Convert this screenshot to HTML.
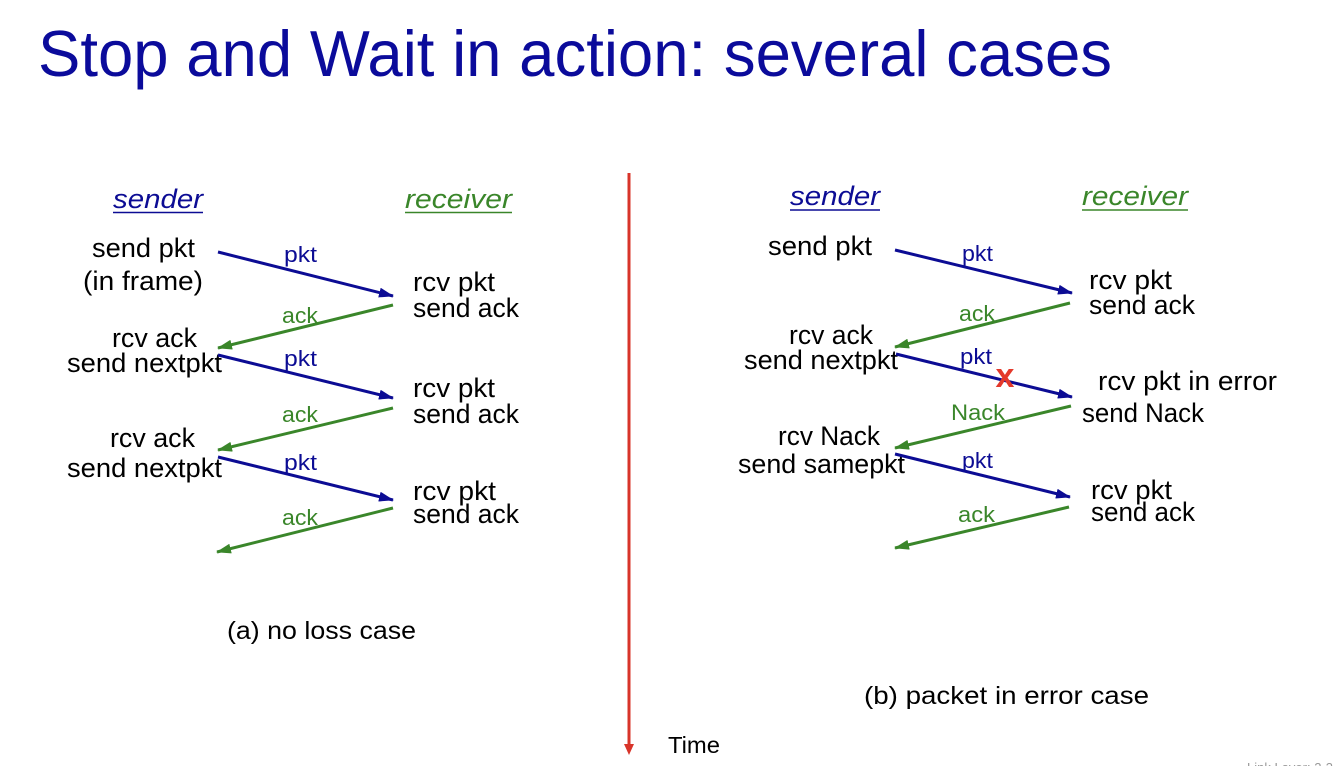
<!DOCTYPE html>
<html><head><meta charset="utf-8"><style>
html,body{margin:0;padding:0;background:#fff;}
svg{display:block;}
text{font-family:"Liberation Sans",sans-serif;}
</style></head><body>
<svg width="1340" height="766" viewBox="0 0 1340 766" xmlns="http://www.w3.org/2000/svg">
<defs>
<marker id="mb" markerWidth="15" markerHeight="10" refX="14" refY="5" orient="auto" markerUnits="userSpaceOnUse"><path d="M0,0 L15,5 L0,10 z" fill="#0c0c94"/></marker>
<marker id="mg" markerWidth="15" markerHeight="10" refX="14" refY="5" orient="auto" markerUnits="userSpaceOnUse"><path d="M0,0 L15,5 L0,10 z" fill="#3a862a"/></marker>
</defs>
<rect width="1340" height="766" fill="#fff"/>
<text x="38" y="76" font-size="65" fill="#0b0b9b" textLength="1074" lengthAdjust="spacingAndGlyphs">Stop and Wait in action: several cases</text>

<!-- time line -->
<line x1="629" y1="173" x2="629" y2="745" stroke="#d8342a" stroke-width="3"/>
<path d="M624,744 L634,744 L629,755 z" fill="#d8342a"/>
<text x="668" y="753" font-size="23" fill="#000" textLength="52" lengthAdjust="spacingAndGlyphs">Time</text>
<text x="1247" y="772" font-size="13" fill="#999">Link Layer: 2-3</text>

<!-- LEFT -->
<g font-size="27" fill="#000">
<text x="113" y="208" font-style="italic" fill="#0c0c94" textLength="90" lengthAdjust="spacingAndGlyphs">sender</text>
<line x1="113" y1="212.5" x2="203" y2="212.5" stroke="#0c0c94" stroke-width="1.5"/>
<text x="405" y="208" font-style="italic" fill="#3a862a" textLength="107" lengthAdjust="spacingAndGlyphs">receiver</text>
<line x1="405" y1="212.5" x2="512" y2="212.5" stroke="#3a862a" stroke-width="1.5"/>
<text x="92" y="257" textLength="103" lengthAdjust="spacingAndGlyphs">send pkt</text>
<text x="83" y="290" textLength="120" lengthAdjust="spacingAndGlyphs">(in frame)</text>
<text x="413" y="291" textLength="82" lengthAdjust="spacingAndGlyphs">rcv pkt</text>
<text x="413" y="317" textLength="106" lengthAdjust="spacingAndGlyphs">send ack</text>
<text x="112" y="347" textLength="85" lengthAdjust="spacingAndGlyphs">rcv ack</text>
<text x="67" y="372" textLength="155" lengthAdjust="spacingAndGlyphs">send nextpkt</text>
<text x="413" y="397" textLength="82" lengthAdjust="spacingAndGlyphs">rcv pkt</text>
<text x="413" y="423" textLength="106" lengthAdjust="spacingAndGlyphs">send ack</text>
<text x="110" y="447" textLength="85" lengthAdjust="spacingAndGlyphs">rcv ack</text>
<text x="67" y="477" textLength="155" lengthAdjust="spacingAndGlyphs">send nextpkt</text>
<text x="413" y="500" textLength="83" lengthAdjust="spacingAndGlyphs">rcv pkt</text>
<text x="413" y="523" textLength="106" lengthAdjust="spacingAndGlyphs">send ack</text>
<text x="227" y="639" font-size="25" textLength="189" lengthAdjust="spacingAndGlyphs">(a) no loss case</text>
</g>
<g font-size="22">
<text x="284" y="262" fill="#0c0c94" textLength="33" lengthAdjust="spacingAndGlyphs">pkt</text>
<text x="282" y="323" fill="#3a862a" textLength="36" lengthAdjust="spacingAndGlyphs">ack</text>
<text x="284" y="366" fill="#0c0c94" textLength="33" lengthAdjust="spacingAndGlyphs">pkt</text>
<text x="282" y="422" fill="#3a862a" textLength="36" lengthAdjust="spacingAndGlyphs">ack</text>
<text x="284" y="470" fill="#0c0c94" textLength="33" lengthAdjust="spacingAndGlyphs">pkt</text>
<text x="282" y="525" fill="#3a862a" textLength="36" lengthAdjust="spacingAndGlyphs">ack</text>
</g>
<g stroke-width="3" fill="none">
<line x1="218" y1="252" x2="393" y2="296" stroke="#0c0c94" marker-end="url(#mb)"/>
<line x1="393" y1="305" x2="218" y2="348" stroke="#3a862a" marker-end="url(#mg)"/>
<line x1="218" y1="355" x2="393" y2="398" stroke="#0c0c94" marker-end="url(#mb)"/>
<line x1="393" y1="408" x2="218" y2="450" stroke="#3a862a" marker-end="url(#mg)"/>
<line x1="218" y1="457" x2="393" y2="500" stroke="#0c0c94" marker-end="url(#mb)"/>
<line x1="393" y1="508" x2="217" y2="552" stroke="#3a862a" marker-end="url(#mg)"/>
</g>

<!-- RIGHT -->
<g font-size="27" fill="#000">
<text x="790" y="205" font-style="italic" fill="#0c0c94" textLength="90" lengthAdjust="spacingAndGlyphs">sender</text>
<line x1="790" y1="210" x2="880" y2="210" stroke="#0c0c94" stroke-width="1.5"/>
<text x="1082" y="205" font-style="italic" fill="#3a862a" textLength="106" lengthAdjust="spacingAndGlyphs">receiver</text>
<line x1="1082" y1="210" x2="1188" y2="210" stroke="#3a862a" stroke-width="1.5"/>
<text x="768" y="255" textLength="104" lengthAdjust="spacingAndGlyphs">send pkt</text>
<text x="1089" y="289" textLength="83" lengthAdjust="spacingAndGlyphs">rcv pkt</text>
<text x="1089" y="314" textLength="106" lengthAdjust="spacingAndGlyphs">send ack</text>
<text x="789" y="344" textLength="84" lengthAdjust="spacingAndGlyphs">rcv ack</text>
<text x="744" y="369" textLength="154" lengthAdjust="spacingAndGlyphs">send nextpkt</text>
<text x="1098" y="390" textLength="179" lengthAdjust="spacingAndGlyphs">rcv pkt in error</text>
<text x="1082" y="422" textLength="122" lengthAdjust="spacingAndGlyphs">send Nack</text>
<text x="778" y="445" textLength="102" lengthAdjust="spacingAndGlyphs">rcv Nack</text>
<text x="738" y="473" textLength="167" lengthAdjust="spacingAndGlyphs">send samepkt</text>
<text x="1091" y="499" textLength="81" lengthAdjust="spacingAndGlyphs">rcv pkt</text>
<text x="1091" y="521" textLength="104" lengthAdjust="spacingAndGlyphs">send ack</text>
<text x="864" y="704" font-size="25" textLength="285" lengthAdjust="spacingAndGlyphs">(b) packet in error case</text>
</g>
<g font-size="22">
<text x="962" y="261" fill="#0c0c94" textLength="31" lengthAdjust="spacingAndGlyphs">pkt</text>
<text x="959" y="321" fill="#3a862a" textLength="36" lengthAdjust="spacingAndGlyphs">ack</text>
<text x="960" y="364" fill="#0c0c94" textLength="32" lengthAdjust="spacingAndGlyphs">pkt</text>
<text x="951" y="420" fill="#3a862a" textLength="54" lengthAdjust="spacingAndGlyphs">Nack</text>
<text x="962" y="468" fill="#0c0c94" textLength="31" lengthAdjust="spacingAndGlyphs">pkt</text>
<text x="958" y="522" fill="#3a862a" textLength="37" lengthAdjust="spacingAndGlyphs">ack</text>
</g>
<g stroke-width="3" fill="none">
<line x1="895" y1="250" x2="1072" y2="293" stroke="#0c0c94" marker-end="url(#mb)"/>
<line x1="1070" y1="303" x2="895" y2="347" stroke="#3a862a" marker-end="url(#mg)"/>
<line x1="896" y1="354" x2="1072" y2="397" stroke="#0c0c94" marker-end="url(#mb)"/>
<line x1="1071" y1="406" x2="895" y2="448" stroke="#3a862a" marker-end="url(#mg)"/>
<line x1="895" y1="454" x2="1070" y2="497" stroke="#0c0c94" marker-end="url(#mb)"/>
<line x1="1069" y1="507" x2="895" y2="548" stroke="#3a862a" marker-end="url(#mg)"/>
</g>
<text x="1005" y="387" font-size="34" font-weight="bold" fill="#e4392b" text-anchor="middle">x</text>
</svg>
</body></html>
